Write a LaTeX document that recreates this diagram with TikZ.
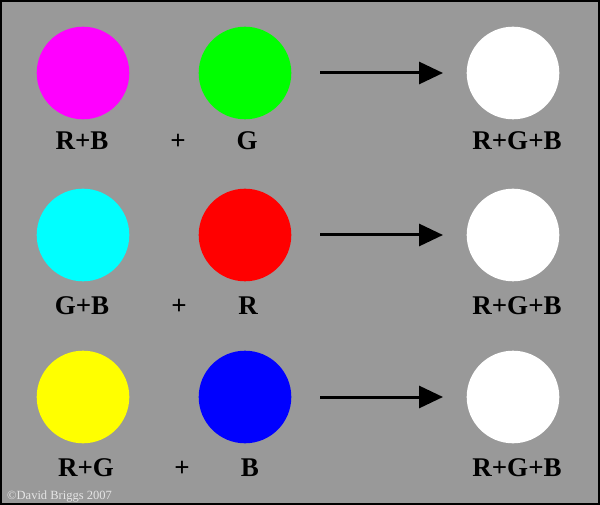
\documentclass[tikz,border=0pt]{standalone}
\usepackage{fontspec}
\setmainfont{Liberation Serif}
\usetikzlibrary{arrows.meta,positioning}
\tikzset{
	disc/.style = {circle, inner sep=0pt, minimum size=92.6pt},% colour disc
	lbl/.style = {anchor=base, inner sep=0pt,
		font=\fontsize{27}{27}\selectfont\bfseries},% disc label
	mix/.style = {-{Triangle[length=24pt,width=22pt]}, line width=3pt}% adds to
}

\begin{document}
\begin{tikzpicture}[x=1pt,y=-1pt]
\useasboundingbox (0,0) rectangle (600,505);
\fill[black!40] (0,0) rectangle (600,505);
\draw[line width=2pt] (1,1) rectangle (599,504);
% row 1
\node[disc, fill={rgb,255:red,255;green,0;blue,255}] (rb) at (83,73) {};
\node[disc, fill={rgb,255:red,0;green,255;blue,0}] (g) at (245,73) {};
\node[disc, fill=white] (w1) at (513,73) {};
\node[lbl] (rbl) at (82,150) {R+B};
\node[lbl] (p1) at (178,150) {+};
\node[lbl] (gl) at (247,150) {G};
\node[lbl] (w1l) at (517,150) {R+G+B};
\coordinate (s1) at (320,73);
\coordinate (e1) at (443,73);
\draw[mix] (s1) -- (e1);
% row 2
\node[disc, fill={rgb,255:red,0;green,255;blue,255}] (gb) at (83,235) {};
\node[disc, fill={rgb,255:red,255;green,0;blue,0}] (r) at (245,235) {};
\node[disc, fill=white] (w2) at (513,235) {};
\node[lbl] (gbl) at (82,314) {G+B};
\node[lbl] (p2) at (179,314) {+};
\node[lbl] (rl) at (248,314) {R};
\node[lbl] (w2l) at (517,314) {R+G+B};
\coordinate (s2) at (320,235);
\coordinate (e2) at (443,235);
\draw[mix] (s2) -- (e2);
% row 3
\node[disc, fill={rgb,255:red,255;green,255;blue,0}] (rg) at (83,397) {};
\node[disc, fill={rgb,255:red,0;green,0;blue,255}] (b) at (245,397) {};
\node[disc, fill=white] (w3) at (513,397) {};
\node[lbl] (rgl) at (86,476) {R+G};
\node[lbl] (p3) at (182,476) {+};
\node[lbl] (bl) at (250,476) {B};
\node[lbl] (w3l) at (517,476) {R+G+B};
\coordinate (s3) at (320,397);
\coordinate (e3) at (443,397);
\draw[mix] (s3) -- (e3);
% credit
\node[anchor=base west, inner sep=0pt, text=black!10,
	font=\fontsize{12.5}{12.5}\selectfont] (cr) at (7,499) {\textcopyright David Briggs 2007};
\end{tikzpicture}
\end{document}
